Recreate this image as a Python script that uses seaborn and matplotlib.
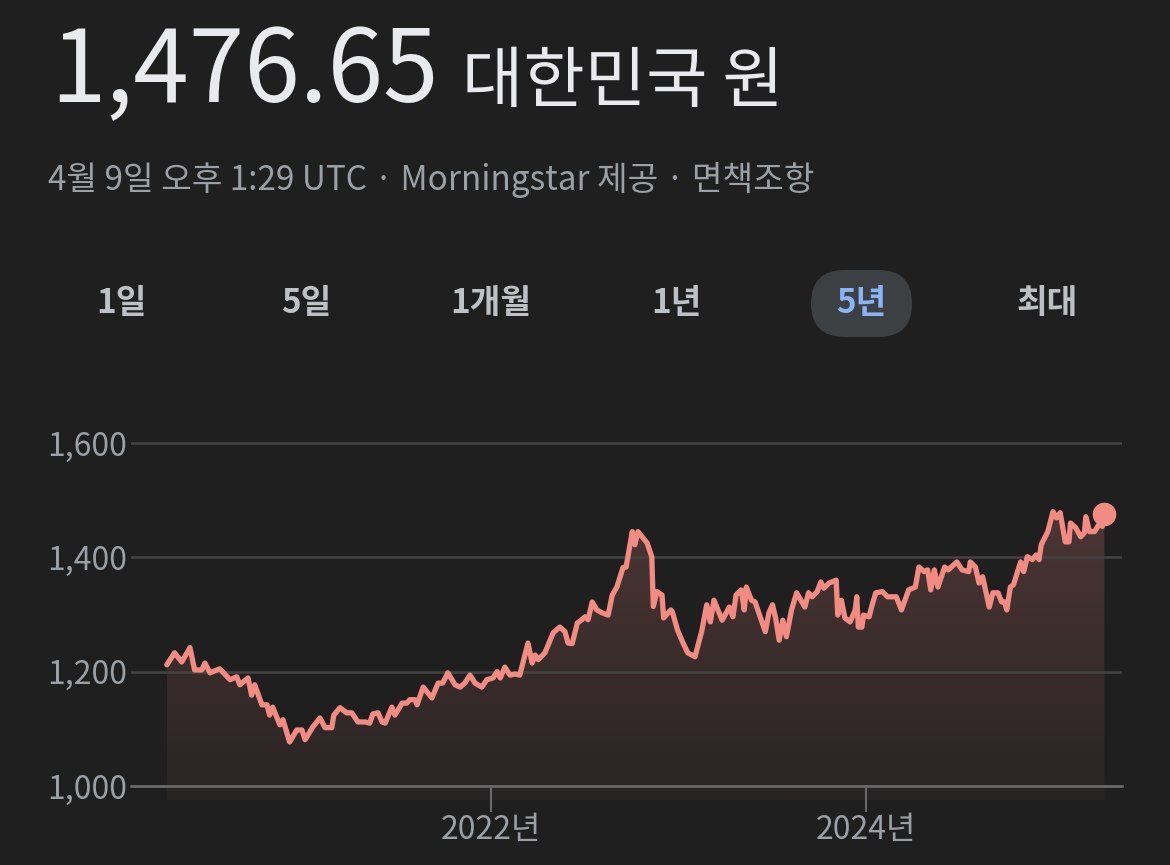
import numpy as np
import pandas as pd
import matplotlib
matplotlib.use("Agg")
import matplotlib.pyplot as plt
import matplotlib.dates as mdates
from matplotlib.colors import LinearSegmentedColormap
from matplotlib.patches import FancyBboxPatch
from matplotlib.transforms import IdentityTransform
import seaborn as sns

# KRW per USD, 5 year weekly-ish readings
DATES = [
    "2020-04-10", "2020-04-25", "2020-05-09", "2020-05-25", "2020-06-03", "2020-06-17",
    "2020-06-23", "2020-07-03", "2020-07-22", "2020-08-11", "2020-08-24", "2020-08-30",
    "2020-09-15", "2020-09-22", "2020-09-28", "2020-10-12", "2020-10-22", "2020-10-27",
    "2020-11-02", "2020-11-16", "2020-11-22", "2020-12-05", "2020-12-19", "2020-12-29",
    "2021-01-04", "2021-01-19", "2021-02-02", "2021-02-12", "2021-02-25", "2021-03-01",
    "2021-03-13", "2021-03-26", "2021-04-05", "2021-04-17", "2021-05-01", "2021-05-10",
    "2021-05-16", "2021-05-26", "2021-06-03", "2021-06-09", "2021-06-22", "2021-06-28",
    "2021-07-12", "2021-07-21", "2021-07-27", "2021-08-06", "2021-08-10", "2021-08-22",
    "2021-09-08", "2021-09-20", "2021-09-29", "2021-10-09", "2021-10-23", "2021-11-02",
    "2021-11-11", "2021-11-21", "2021-12-01", "2021-12-14", "2021-12-24", "2022-01-05",
    "2022-01-13", "2022-01-19", "2022-01-28", "2022-02-07", "2022-02-17", "2022-02-26",
    "2022-03-14", "2022-03-22", "2022-03-28", "2022-04-03", "2022-04-16", "2022-05-02",
    "2022-05-15", "2022-05-25", "2022-05-31", "2022-06-08", "2022-06-18", "2022-06-27",
    "2022-07-03", "2022-07-09", "2022-07-17", "2022-07-26", "2022-08-05", "2022-08-17",
    "2022-08-25", "2022-09-03", "2022-09-15", "2022-09-21", "2022-10-03", "2022-10-08",
    "2022-10-14", "2022-11-01", "2022-11-10", "2022-11-13", "2022-11-20", "2022-11-30",
    "2022-12-03", "2022-12-17", "2022-12-20", "2022-12-30", "2023-01-09", "2023-01-19",
    "2023-02-02", "2023-02-15", "2023-02-25", "2023-03-04", "2023-03-11", "2023-03-27",
    "2023-04-10", "2023-04-17", "2023-04-23", "2023-05-03", "2023-05-09", "2023-05-13",
    "2023-05-23", "2023-05-30", "2023-06-09", "2023-06-19", "2023-06-26", "2023-07-03",
    "2023-07-09", "2023-07-16", "2023-07-23", "2023-07-30", "2023-08-09", "2023-08-19",
    "2023-09-04", "2023-09-11", "2023-09-18", "2023-09-28", "2023-10-05", "2023-10-11",
    "2023-10-21", "2023-11-04", "2023-11-07", "2023-11-14", "2023-11-21", "2023-12-01",
    "2023-12-11", "2023-12-14", "2023-12-17", "2023-12-24", "2023-12-27", "2024-01-07",
    "2024-01-13", "2024-01-20", "2024-02-02", "2024-02-12", "2024-02-29", "2024-03-10",
    "2024-03-24", "2024-04-06", "2024-04-13", "2024-04-23", "2024-04-30", "2024-05-06",
    "2024-05-13", "2024-05-20", "2024-06-02", "2024-06-09", "2024-06-26", "2024-07-06",
    "2024-07-19", "2024-07-22", "2024-08-01", "2024-08-08", "2024-08-15", "2024-08-28",
    "2024-09-04", "2024-09-14", "2024-09-21", "2024-09-27", "2024-10-01", "2024-10-08",
    "2024-10-14", "2024-10-28", "2024-11-03", "2024-11-10", "2024-11-20", "2024-11-27",
    "2024-12-03", "2024-12-07", "2024-12-20", "2024-12-30", "2025-01-06", "2025-01-13",
    "2025-01-23", "2025-01-30", "2025-02-02", "2025-02-12", "2025-02-22", "2025-03-01",
    "2025-03-04", "2025-03-11", "2025-03-21", "2025-03-31", "2025-04-05", "2025-04-09",
]
RATES = [
    1212, 1233, 1217, 1242, 1203, 1203,
    1215, 1198, 1205, 1186, 1191, 1177,
    1189, 1159, 1177, 1142, 1142, 1124,
    1138, 1107, 1116, 1077, 1098, 1098,
    1081, 1103, 1119, 1102, 1102, 1124,
    1137, 1128, 1128, 1112, 1112, 1110,
    1126, 1128, 1112, 1110, 1138, 1124,
    1145, 1145, 1151, 1151, 1142, 1173,
    1154, 1180, 1180, 1198, 1177, 1173,
    1180, 1194, 1180, 1173, 1186, 1189,
    1200, 1189, 1208, 1194, 1196, 1194,
    1250, 1215, 1229, 1221, 1233, 1268,
    1278, 1270, 1250, 1249, 1285, 1291,
    1296, 1291, 1322, 1308, 1303, 1299,
    1334, 1348, 1382, 1383, 1445, 1422,
    1445, 1425, 1401, 1314, 1340, 1334,
    1294, 1308, 1305, 1273, 1252, 1233,
    1226, 1270, 1317, 1287, 1325, 1290,
    1313, 1296, 1334, 1343, 1308, 1348,
    1325, 1322, 1296, 1270, 1303, 1317,
    1294, 1255, 1290, 1261, 1308, 1338,
    1313, 1338, 1331, 1340, 1357, 1346,
    1355, 1360, 1299, 1325, 1294, 1287,
    1308, 1331, 1278, 1278, 1299, 1296,
    1317, 1338, 1340, 1331, 1331, 1308,
    1343, 1348, 1383, 1375, 1378, 1343,
    1378, 1348, 1383, 1378, 1392, 1378,
    1375, 1392, 1383, 1355, 1366, 1313,
    1338, 1338, 1322, 1322, 1308, 1348,
    1352, 1392, 1375, 1401, 1396, 1404,
    1396, 1422, 1445, 1480, 1469, 1478,
    1427, 1427, 1460, 1452, 1436, 1443,
    1471, 1445, 1445, 1460, 1454, 1476.65,
]

PRICE = "1,476.65"
CURRENCY = "대한민국 원"
SUBTITLE = "4월 9일 오후 1:29 UTC · Morningstar 제공 · 면책조항"
TABS = ["1일", "5일", "1개월", "1년", "5년", "최대"]
ACTIVE_TAB = "5년"
Y_TICKS = [1000, 1200, 1400, 1600]
Y_TICK_LABELS = ["1,000", "1,200", "1,400", "1,600"]
X_TICKS = ["2022-01-01", "2024-01-01"]
X_TICK_LABELS = ["2022년", "2024년"]

BG = "#1f1f1f"
LINE = "#f28b82"
GRID = "#434343"
AXIS = "#6a6a6a"
MUTED = "#9aa0a6"
W, H = 1170, 865


def fx(px):
    return px / W


def fy(py):
    return 1 - py / H


def main():
    sns.set_theme(style="dark", rc={"figure.facecolor": BG, "axes.facecolor": BG,
                                    "savefig.facecolor": BG})
    plt.rcParams["font.family"] = ["Noto Sans CJK KR", "DejaVu Sans"]

    df = pd.DataFrame({"date": pd.to_datetime(DATES), "rate": RATES})

    fig = plt.figure(figsize=(W / 100, H / 100), dpi=100)

    # header
    fig.text(fx(50), fy(102), PRICE, fontsize=72, color="#e8eaed", va="baseline")
    fig.text(fx(462), fy(102), CURRENCY, fontsize=48, color="#e8eaed", va="baseline")
    fig.text(fx(48), fy(190), SUBTITLE, fontsize=24, color=MUTED, va="baseline")

    # range tabs
    tab_x = [121, 306, 491, 676, 861, 1047]
    pill = FancyBboxPatch((811, H - 337), 101, 67,
                          boxstyle="round,pad=0,rounding_size=33.5",
                          facecolor="#3c4043", edgecolor="none",
                          transform=IdentityTransform(), figure=fig)
    fig.patches.append(pill)
    for label, x in zip(TABS, tab_x):
        active = label == ACTIVE_TAB
        fig.text(fx(x), fy(304), label, fontsize=24, fontweight="bold",
                 color="#8ab4f8" if active else "#bdc1c6", ha="center", va="center")

    # chart area
    ax = fig.add_axes([fx(131), (H - 800) / H, (1122 - 131) / W, 370 / H])
    px_per_unit = (786 - 443) / 600
    y_low = 1000 - (800 - 786) / px_per_unit
    y_high = 1600 + (443 - 430) / px_per_unit

    ref = mdates.date2num(pd.Timestamp("2022-01-01"))
    px_per_day = (866 - 491) / 730
    x_left = ref - (491 - 131) / px_per_day
    x_right = ref + (1122 - 491) / px_per_day

    poly = ax.fill_between(df["date"], df["rate"], y_low, facecolor="none",
                           edgecolor="none")
    grad = np.linspace(0, 1, 256).reshape(-1, 1)
    cmap = LinearSegmentedColormap.from_list("fill", ["#292424", "#4b3634"])
    d0 = mdates.date2num(df["date"].iloc[0])
    d1 = mdates.date2num(df["date"].iloc[-1])
    im = ax.imshow(grad, extent=[d0, d1, y_low, df["rate"].max()], origin="lower",
                   aspect="auto", cmap=cmap, zorder=1)
    im.set_clip_path(poly.get_paths()[0], transform=ax.transData)

    sns.lineplot(data=df, x="date", y="rate", ax=ax, color=LINE, linewidth=3.8,
                 zorder=3)
    ax.plot(df["date"].iloc[-1], df["rate"].iloc[-1], "o", ms=16, color=LINE,
            zorder=4, clip_on=False)

    ax.set_xlim(x_left, x_right)
    ax.set_ylim(y_low, y_high)

    ax.set_axisbelow("line")
    ax.yaxis.grid(True, color=GRID, linewidth=1.8)
    ax.xaxis.grid(False)

    for side in ["top", "right", "left"]:
        ax.spines[side].set_visible(False)
    ax.spines["bottom"].set_position(("data", 1000))
    ax.spines["bottom"].set_color(AXIS)
    ax.spines["bottom"].set_linewidth(1.8)

    ax.set_yticks(Y_TICKS)
    ax.set_yticklabels(Y_TICK_LABELS)
    ax.set_xticks(mdates.date2num(pd.to_datetime(X_TICKS)))
    ax.set_xticklabels(X_TICK_LABELS)
    ax.tick_params(axis="y", length=0, pad=3, labelsize=23, labelcolor=MUTED)
    ax.tick_params(axis="x", length=19, width=1.5, color=AXIS, direction="out",
                   pad=1, labelsize=23, labelcolor=MUTED, bottom=True)
    ax.set_xlabel("")
    ax.set_ylabel("")

    fig.savefig("out.png", dpi=100, facecolor=BG)


if __name__ == "__main__":
    main()
